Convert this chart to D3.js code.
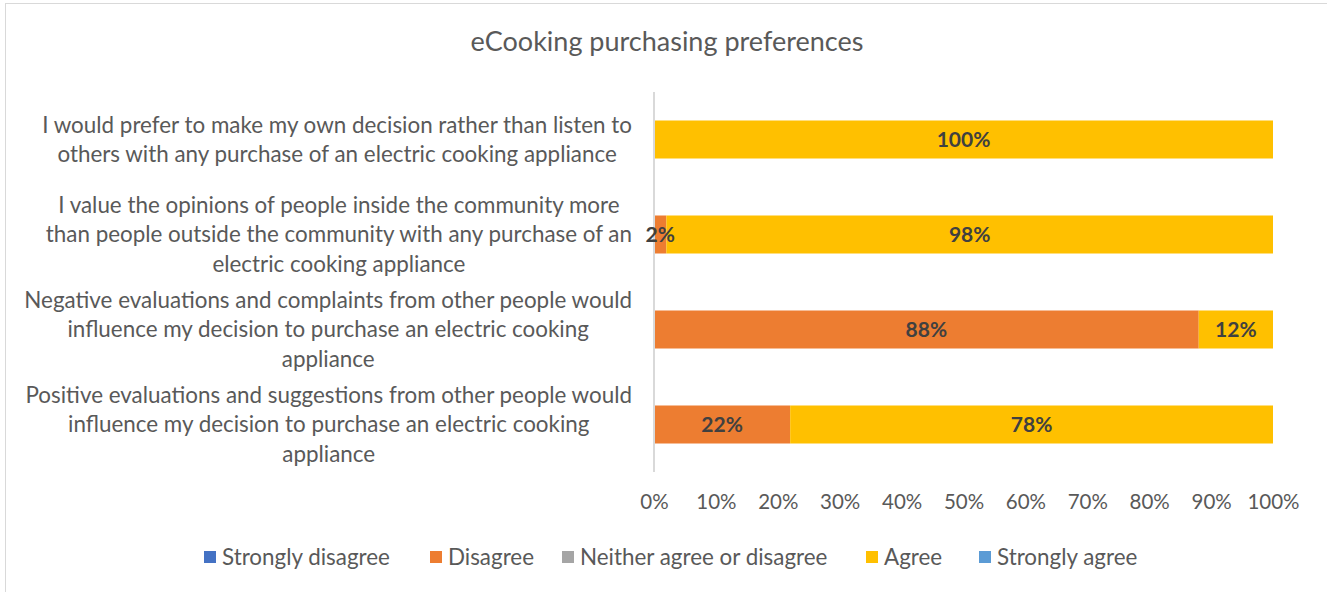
<!DOCTYPE html>
<html>
<head>
<meta charset="utf-8">
<script src="https://cdn.jsdelivr.net/npm/d3@7"></script>
<style>
  html, body { margin: 0; padding: 0; background: #fff; }
  svg { display: block; font-family: Lato, "Open Sans", sans-serif; }
</style>
</head>
<body>
<svg id="chart" width="1327" height="592"></svg>
<script>
// Survey statements (top to bottom), each split into its display lines
const categories = [
  "I would prefer to make my own decision rather than listen to others with any purchase of an electric cooking appliance",
  "I value the opinions of people inside the community more than people outside the community with any purchase of an electric cooking appliance",
  "Negative evaluations and complaints from other people would influence my decision to purchase an electric cooking appliance",
  "Positive evaluations and suggestions from other people would influence my decision to purchase an electric cooking appliance"
];
const categoryLines = [
  ["I would prefer to make my own decision rather than listen to", "others with any purchase of an electric cooking appliance"],
  ["I value the opinions of people inside the community more", "than people outside the community with any purchase of an", "electric cooking appliance"],
  ["Negative evaluations and complaints from other people would", "influence my decision to purchase an electric cooking", "appliance"],
  ["Positive evaluations and suggestions from other people would", "influence my decision to purchase an electric cooking", "appliance"]
];

// Response levels and their shares (%) per statement, in category order
const seriesNames = ["Strongly disagree", "Disagree", "Neither agree or disagree", "Agree", "Strongly agree"];
const stronglyDisagree = [0, 0, 0, 0];
const disagree         = [0, 2, 88, 22];
const neither          = [0, 0, 0, 0];
const agree            = [100, 98, 12, 78];
const stronglyAgree    = [0, 0, 0, 0];
const seriesColors = ["#4472C4", "#ED7D31", "#A5A5A5", "#FFC000", "#5B9BD5"];

const xTicks = [0, 10, 20, 30, 40, 50, 60, 70, 80, 90, 100];
const chartTitle = "eCooking purchasing preferences";

const rows = categories.map((c, i) => ({
  category: c,
  "Strongly disagree": stronglyDisagree[i],
  "Disagree": disagree[i],
  "Neither agree or disagree": neither[i],
  "Agree": agree[i],
  "Strongly agree": stronglyAgree[i]
}));

const svg = d3.select("#chart");
const W = 1327, H = 592;

// outer chart border
svg.append("rect")
  .attr("x", 5.5).attr("y", 3.5)
  .attr("width", W + 10).attr("height", H + 10)
  .attr("fill", "#fff").attr("stroke", "#D9D9D9").attr("stroke-width", 1);

const plot = { left: 654, right: 1273, top: 92, bottom: 472 };

const x = d3.scaleLinear().domain([0, 100]).range([plot.left, plot.right]);
const y = d3.scaleBand().domain(categories).range([plot.top, plot.bottom]).paddingInner(0.6).paddingOuter(0.3);

// title
svg.append("text")
  .attr("x", 667).attr("y", 51)
  .attr("text-anchor", "middle")
  .attr("font-size", 27)
  .attr("fill", "#595959")
  .text(chartTitle);

const stack = d3.stack().keys(seriesNames)(rows);

// stacked bars
const layers = svg.append("g").selectAll("g")
  .data(stack).join("g")
  .attr("fill", (d, i) => seriesColors[i]);

layers.selectAll("rect")
  .data(d => d)
  .join("rect")
  .attr("x", d => x(d[0]))
  .attr("width", d => x(d[1]) - x(d[0]))
  .attr("y", d => y(d.data.category))
  .attr("height", y.bandwidth());

// category axis line
svg.append("line")
  .attr("x1", x(0)).attr("x2", x(0))
  .attr("y1", plot.top).attr("y2", plot.bottom)
  .attr("stroke", "#D9D9D9").attr("stroke-width", 2);

// value labels on non-empty segments
const labels = svg.append("g");
stack.forEach(layer => {
  layer.forEach(d => {
    const v = d[1] - d[0];
    if (v <= 0) return;
    labels.append("text")
      .attr("x", (x(d[0]) + x(d[1])) / 2)
      .attr("y", y(d.data.category) + y.bandwidth() / 2)
      .attr("dy", "0.36em")
      .attr("text-anchor", "middle")
      .attr("font-size", 21)
      .attr("font-weight", "bold")
      .attr("fill", "#404040")
      .text(v + "%");
  });
});

// category labels: lines centred within a block whose right edge sits by the axis
const lineH = 29.5;
const labelRight = 632;
const catG = svg.append("g");
categories.forEach((c, i) => {
  const lines = categoryLines[i];
  const cy = y(c) + y.bandwidth() / 2;
  const t = catG.append("text")
    .attr("text-anchor", "middle")
    .attr("font-size", 22.4)
    .attr("fill", "#595959");
  const spans = lines.map((ln, j) => t.append("tspan")
    .attr("y", cy + (j - (lines.length - 1) / 2) * lineH)
    .attr("dy", "0.35em")
    .text(ln));
  const maxW = d3.max(spans, s => s.node().getComputedTextLength());
  spans.forEach(s => s.attr("x", labelRight - maxW / 2));
});

// x axis tick labels
const xAxis = d3.axisBottom(x)
  .tickValues(xTicks)
  .tickFormat(d => d + "%")
  .tickSize(0)
  .tickPadding(0);
const xg = svg.append("g")
  .attr("transform", `translate(0, ${plot.bottom + 22})`)
  .call(xAxis);
xg.select(".domain").remove();
xg.selectAll("text")
  .attr("font-size", 20.5)
  .attr("font-family", "Lato, 'Open Sans', sans-serif")
  .attr("fill", "#595959");

// legend
const legendX = [204, 430, 562, 866, 979];
const lg = svg.append("g");
seriesNames.forEach((s, i) => {
  lg.append("rect")
    .attr("x", legendX[i]).attr("y", 551)
    .attr("width", 12).attr("height", 12)
    .attr("fill", seriesColors[i]);
  lg.append("text")
    .attr("x", legendX[i] + 18).attr("y", 557)
    .attr("dy", "0.35em")
    .attr("font-size", 22.4)
    .attr("fill", "#595959")
    .text(s);
});
</script>
</body>
</html>
